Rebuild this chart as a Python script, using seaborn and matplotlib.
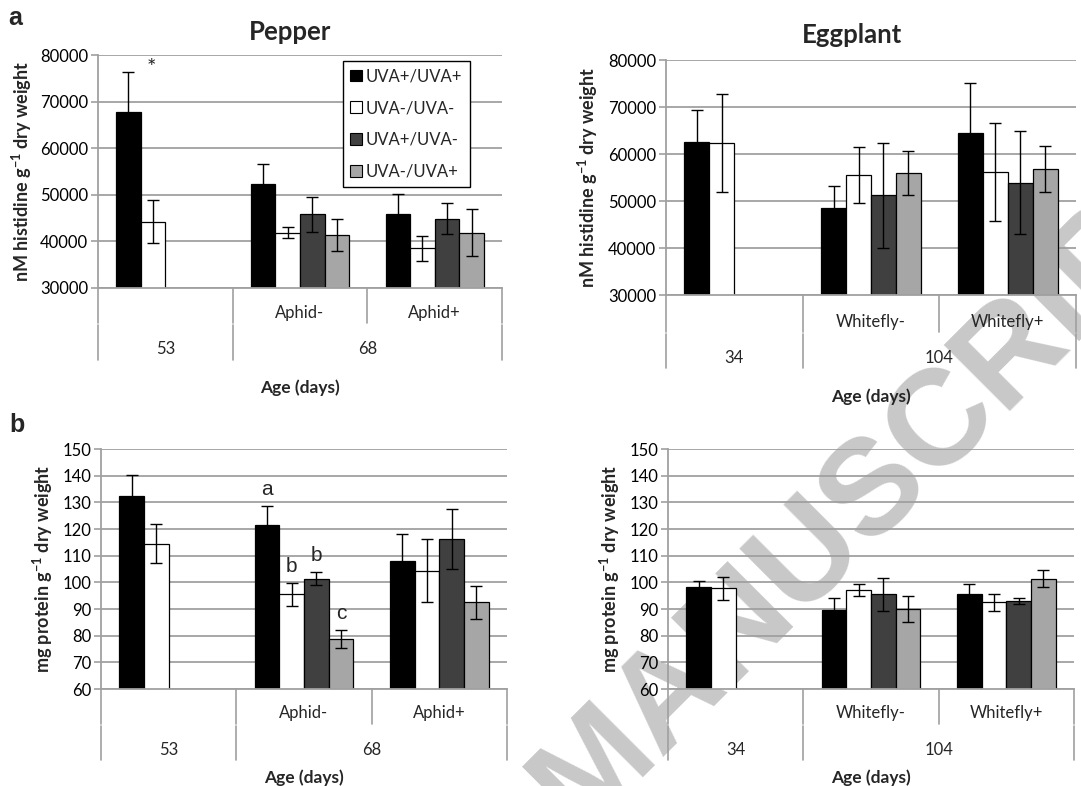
import numpy as np
import pandas as pd
import matplotlib
matplotlib.use("Agg")
import matplotlib.pyplot as plt
import matplotlib.transforms as mtransforms
from matplotlib.patches import Patch
import seaborn as sns

# ---- data ----
treatments = ["UVA+/UVA+", "UVA-/UVA-", "UVA+/UVA-", "UVA-/UVA+"]
bar_colors = ["#000000", "#ffffff", "#404040", "#a6a6a6"]

pepper_groups = ["53", "Aphid-", "Aphid+"]
pepper_sub = ["", "Aphid-", "Aphid+"]
pepper_ages = ["53", "68"]
pepper_age_span = [1, 2]

eggplant_groups = ["34", "Whitefly-", "Whitefly+"]
eggplant_sub = ["", "Whitefly-", "Whitefly+"]
eggplant_ages = ["34", "104"]
eggplant_age_span = [1, 2]

pepper_his = [[67800, 44200], [52400, 41900, 45800, 41400], [45900, 38500, 44900, 41900]]
pepper_his_err = [[8600, 4600], [4300, 1200, 3700, 3400], [4300, 2600, 3300, 5000]]

eggplant_his = [[62600, 62300], [48600, 55500, 51200, 55900], [64400, 56200, 53900, 56800]]
eggplant_his_err = [[6800, 10400], [4600, 5900, 11100, 4700], [10800, 10500, 10900, 4950]]

pepper_prot = [[132.3, 114.5], [121.4, 95.5, 101.4, 78.8], [108.0, 104.3, 116.2, 92.6]]
pepper_prot_err = [[8.0, 7.2], [7.2, 4.3, 2.5, 3.3], [10.0, 11.8, 11.3, 6.2]]

eggplant_prot = [[98.4, 97.7], [89.6, 97.1, 95.5, 90.1], [95.5, 92.6, 93.0, 101.4]]
eggplant_prot_err = [[2.0, 4.4], [4.5, 2.3, 6.1, 4.8], [4.0, 3.2, 1.3, 3.3]]

his_ticks = [30000, 40000, 50000, 60000, 70000, 80000]
prot_ticks = [60, 70, 80, 90, 100, 110, 120, 130, 140, 150]

# significance letters on the pepper protein Aphid- group
prot_letters = ["a", "b", "b", "c"]

W, H = 1081, 786
GRID = "#a0a0a0"
FONT = "Lato"

sns.set_theme(style="white")
plt.rcParams["font.family"] = [FONT, "DejaVu Sans"]
plt.rcParams["mathtext.default"] = "regular"


def long_table(groups, values, errors):
    rows = []
    for g, vals, errs in zip(groups, values, errors):
        for t, v, e in zip(treatments, vals, errs):
            rows.append({"group": g, "treatment": t, "value": v, "err": e})
    return pd.DataFrame(rows)


def make_axes(fig, left, top, right, bottom):
    ax = fig.add_axes([left / W, 1 - bottom / H, (right - left) / W, (bottom - top) / H])
    ax.px_height = bottom - top
    return ax


def draw_panel(ax, groups, values, errors, yticks):
    df = long_table(groups, values, errors)
    sns.barplot(data=df, x="group", y="value", hue="treatment", order=groups,
                hue_order=treatments, palette=bar_colors, edgecolor="black",
                linewidth=0.9, width=0.73, errorbar=None, legend=False, ax=ax)
    bars = {}
    for container, t in zip(ax.containers, treatments):
        for bar in container:
            xc = bar.get_x() + bar.get_width() / 2
            gi = int(round(xc))
            row = df[(df.group == groups[gi]) & (df.treatment == t)].iloc[0]
            ax.errorbar(xc, row.value, yerr=row.err, fmt="none", ecolor="black",
                        elinewidth=1.0, capsize=4.5, capthick=1.0, zorder=4)
            bars[(gi, t)] = (bar, row.value, row.err)
    ax.set_xlim(-0.5, 2.5)
    ax.set_ylim(yticks[0], yticks[-1])
    ax.set_yticks(yticks)
    ax.set_yticklabels([str(v) for v in yticks])
    ax.set_xticks([])
    ax.set_xlabel("")
    ax.set_ylabel("")
    ax.grid(axis="y", color=GRID, lw=1.3)
    ax.set_axisbelow(True)
    ax.set_facecolor("none")
    for s in ["top", "right"]:
        ax.spines[s].set_visible(False)
    for s in ["left", "bottom"]:
        ax.spines[s].set_color(GRID)
        ax.spines[s].set_linewidth(1.3)
    ax.tick_params(axis="y", left=True, length=5, width=1.2, color=GRID,
                   labelsize=12, pad=2, labelcolor="black")
    return bars


def draw_category_axis(ax, sub_labels, ages, age_span, rows):
    lab1, line1, lab2, line2, xlab = [-r / ax.px_height for r in rows]
    trans = mtransforms.blended_transform_factory(ax.transData, ax.transAxes)
    n = len(sub_labels)
    for i in range(n + 1):
        ax.plot([i - 0.5, i - 0.5], [0, line1], color=GRID, lw=1.2,
                transform=trans, clip_on=False)
    for i, s in enumerate(sub_labels):
        ax.text(i, lab1, s, transform=trans, ha="center", va="center", fontsize=12)
    start = 0
    edges = [0]
    for a, span in zip(ages, age_span):
        ax.text(start + (span - 1) / 2, lab2, a, transform=trans, ha="center",
                va="center", fontsize=12)
        start += span
        edges.append(start)
    for e in edges:
        ax.plot([e - 0.5, e - 0.5], [line1 - 0.01, line2], color=GRID, lw=1.2,
                transform=trans, clip_on=False)
    ax.text(0.5, xlab, "Age (days)", transform=ax.transAxes, ha="center",
            va="center", fontsize=12.5, fontweight="bold")


def ylabel(ax, text, dx_px, width_px):
    ax.text(dx_px / width_px, 0.5, text, transform=ax.transAxes, rotation=90,
            ha="center", va="center", fontsize=13, fontweight="bold")


fig = plt.figure(figsize=(W / 100, H / 100), dpi=100)

# watermark behind everything
fig.text(875 / W, 1 - 487 / H, "MANUSCRIPT", rotation=45, ha="center", va="center",
         rotation_mode="anchor", fontsize=98, fontweight="bold", color="#c8c8c8",
         family="Liberation Sans", zorder=-5)

ax_a = make_axes(fig, 98, 55, 502, 288)
ax_b = make_axes(fig, 666, 60, 1076, 295)
ax_c = make_axes(fig, 101, 449, 507, 689)
ax_d = make_axes(fig, 668, 449, 1074, 689)

bars_a = draw_panel(ax_a, pepper_groups, pepper_his, pepper_his_err, his_ticks)
draw_panel(ax_b, eggplant_groups, eggplant_his, eggplant_his_err, his_ticks)
bars_c = draw_panel(ax_c, pepper_groups, pepper_prot, pepper_prot_err, prot_ticks)
draw_panel(ax_d, eggplant_groups, eggplant_prot, eggplant_prot_err, prot_ticks)

draw_category_axis(ax_a, pepper_sub, pepper_ages, pepper_age_span, (25, 35, 61, 72, 100))
draw_category_axis(ax_b, eggplant_sub, eggplant_ages, eggplant_age_span, (27, 37, 63, 73, 102))
draw_category_axis(ax_c, pepper_sub, pepper_ages, pepper_age_span, (24, 35, 61, 71, 89))
draw_category_axis(ax_d, eggplant_sub, eggplant_ages, eggplant_age_span, (24, 35, 61, 71, 89))

his_label = "nM histidine g$^{-1}$ dry weight"
prot_label = "mg protein g$^{-1}$ dry weight"
ylabel(ax_a, his_label, -76, 404)
ylabel(ax_b, his_label, -78, 410)
ylabel(ax_c, prot_label, -58, 406)
ylabel(ax_d, prot_label, -58, 406)

# titles and panel letters
fig.text(290 / W, 1 - 32 / H, "Pepper", ha="center", va="center", fontsize=18.5, fontweight="bold")
fig.text(852 / W, 1 - 35 / H, "Eggplant", ha="center", va="center", fontsize=18.5, fontweight="bold")
fig.text(15 / W, 1 - 18 / H, "a", ha="center", va="center", fontsize=18, fontweight="bold",
         family="Liberation Sans")
fig.text(17 / W, 1 - 425 / H, "b", ha="center", va="center", fontsize=18, fontweight="bold",
         family="Liberation Sans")

# asterisk on the pepper 53 d group
bar, val, err = bars_a[(0, treatments[1])]
ax_a.text(bar.get_x() + bar.get_width() * 0.45, 77300, "*", ha="center", va="center", fontsize=16)

# significance letters
for t, letter in zip(treatments, prot_letters):
    bar, val, err = bars_c[(1, t)]
    ax_c.text(bar.get_x() + bar.get_width() / 2, val + err + 4.0, letter, ha="center",
              va="baseline", fontsize=15, family="Liberation Sans")

# legend
handles = [Patch(facecolor=c, edgecolor="black", linewidth=0.8) for c in bar_colors]
leg = ax_a.legend(handles, treatments, loc="upper right", bbox_to_anchor=(0.921, 0.975),
                  borderaxespad=0, fontsize=12, handlelength=0.7, handleheight=0.7,
                  handletextpad=0.25, labelspacing=0.95, fancybox=False, frameon=True,
                  borderpad=0.45)
leg.get_frame().set_edgecolor("black")
leg.get_frame().set_linewidth(1.0)
leg.get_frame().set_facecolor("white")
leg.get_frame().set_alpha(1)

fig.savefig("out.png", dpi=100)
